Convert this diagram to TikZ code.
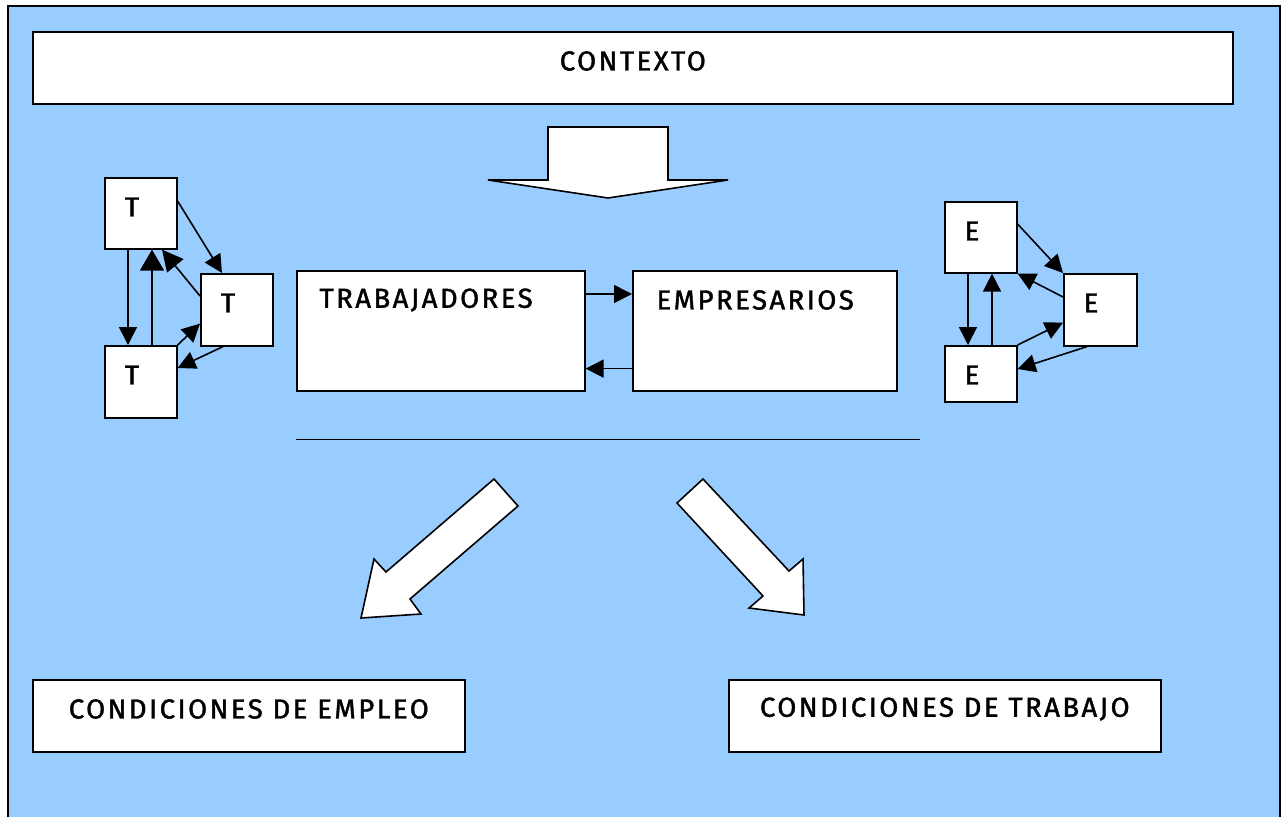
\documentclass[tikz,border=0pt]{standalone}
\usepackage{fontspec}
\setmainfont{Fira Sans}[LetterSpace=9, FakeBold=1.5]
\usetikzlibrary{arrows.meta}
\definecolor{fondo}{HTML}{99CCFF}
\tikzset{
  caja/.style={draw, fill=white, line width=1.6pt, inner sep=0pt, anchor=north west},
  texto/.style={label={[anchor=center, yshift=-30pt]north:#1}},
  letra/.style={label={[anchor=center, shift={(28pt,-30pt)}]north west:#1}},
  flecha/.style={-{Triangle[length=18pt,width=18pt]}, line width=1.6pt},
  bloque/.style={draw, fill=white, line width=1.6pt, line join=miter},
}
\begin{document}
\begin{tikzpicture}[x=1pt, y=-1pt, font=\fontsize{27.5}{32}\selectfont]
\useasboundingbox (0,0) rectangle (1284,816);
\begin{scope}
\clip (0,0) rectangle (1284,816);
\draw[fill=fondo, line width=2pt] (8,6) rectangle (1280,840);
\end{scope}
% contexto
\node[caja, minimum width=1200pt, minimum height=72pt, texto=CONTEXTO] (contexto) at (32,31) {};
\draw[bloque] (548,127) -- (668,127) -- (668,180) -- (728,180) -- (608,198) -- (488,180) -- (548,180) -- cycle;
% trabajadores
\node[caja, minimum width=72pt, minimum height=71pt, letra=T] (t1) at (104,177) {};
\node[caja, minimum width=72pt, minimum height=72pt, letra=T] (t2) at (200,273) {};
\node[caja, minimum width=72pt, minimum height=72pt, letra=T] (t3) at (104,345) {};
\draw[flecha] ([yshift=-24pt]t1.north east) -- ([xshift=22pt]t2.north west);
\draw[flecha] ([xshift=24pt]t1.south west) -- ([xshift=24pt]t3.north west);
\draw[flecha, -{Triangle[length=21pt,width=24pt]}] ([xshift=48pt]t3.north west) -- ([xshift=48pt]t1.south west);
\draw[flecha, -{Triangle[length=21pt,width=21pt]}] ([yshift=-23pt]t2.north west) -- ([xshift=58pt]t1.south west);
\draw[flecha] (t3.north east) -- ([yshift=23pt]t2.south west);
\draw[flecha] ([xshift=23pt]t2.south west) -- ([yshift=-23pt]t3.north east);
% empresarios
\node[caja, minimum width=72pt, minimum height=71pt, letra=E] (e1) at (944,201) {};
\node[caja, minimum width=73pt, minimum height=72pt, letra=E] (e2) at (1063,273) {};
\node[caja, minimum width=72pt, minimum height=56pt, letra=E] (e3) at (944,345) {};
\draw[flecha] ([yshift=-23pt]e1.north east) -- (e2.north west);
\draw[flecha] ([xshift=24pt]e1.south west) -- ([xshift=24pt]e3.north west);
\draw[flecha] ([xshift=48pt]e3.north west) -- ([xshift=48pt]e1.south west);
\draw[flecha] ([yshift=-24pt]e2.north west) -- (e1.south east);
\draw[flecha] (e3.north east) -- ([yshift=24pt]e2.south west);
\draw[flecha] ([xshift=24pt]e2.south west) -- ([yshift=-24pt]e3.north east);
% relacion
\node[caja, minimum width=288pt, minimum height=120pt,
  label={[anchor=west, shift={(20pt,-30pt)}]north west:TRABAJADORES}] (trab) at (296,270) {};
\node[caja, minimum width=264pt, minimum height=120pt,
  label={[anchor=west, shift={(21pt,-30pt)}]north west:EMPRESARIOS}] (emp) at (632,270) {};
\draw[flecha] ([yshift=-24pt]trab.north east) -- ([yshift=-24pt]emp.north west);
\draw[flecha] ([yshift=23pt]emp.south west) -- ([yshift=23pt]trab.south east);
\draw[line width=1.4pt] (trab.south west) ++(0,48) coordinate (raya) -- ++(624,0) coordinate (raya2);
% condiciones
\draw[bloque] (494,479) -- (518,506) -- (410,599) -- (421,614) -- (361,618) -- (374,559) -- (386,572) -- cycle;
\draw[bloque] (703,479) -- (677,503) -- (763,596) -- (749,608) -- (804,615) -- (803,559) -- (789,571) -- cycle;
\node[caja, minimum width=432pt, minimum height=72pt, texto=CONDICIONES DE EMPLEO] (empleo) at (32,679) {};
\node[caja, minimum width=432pt, minimum height=72pt, texto=CONDICIONES DE TRABAJO] (trabajo) at (728,679) {};
\end{tikzpicture}
\end{document}
